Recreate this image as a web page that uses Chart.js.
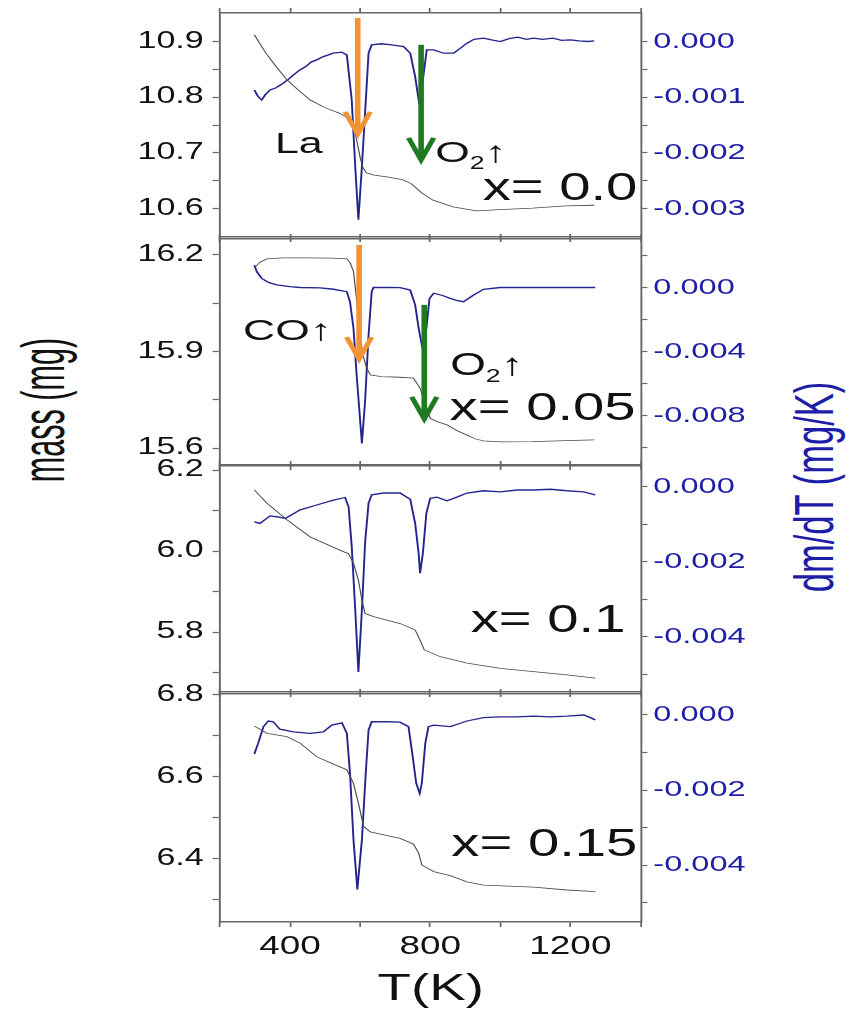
<!DOCTYPE html>
<html>
<head>
<meta charset="utf-8">
<script src="https://cdn.jsdelivr.net/npm/chart.js@4.4.0/dist/chart.umd.min.js"></script>
<style>
  body { margin: 0; background: #fff; }
  #fig { position: relative; width: 846px; height: 1011px; overflow: hidden; background: #fff; }
  .vtitle { position: absolute; width: 340px; height: 44px; line-height: 44px; text-align: center;
            font-family: 'Liberation Sans', Arial, sans-serif; white-space: nowrap; }
</style>
</head>
<body>
<div id="fig">
  <div class="vtitle" id="massTitle">mass (mg)</div>
  <div class="vtitle" id="rateTitle">dm/dT (mg/K)</div>
</div>
<script>
const PAGE_W = 846;
const LOGICAL_W = 572;              // charts are laid out narrow, then widened
const SX = PAGE_W / LOGICAL_W;
const FONT = "'Liberation Sans', Arial, sans-serif";

// temperature axis
const tempTicks = [200, 400, 600, 800, 1000, 1200, 1400];
const tempLabels = [400, 800, 1200];

// x = 0.0
const massT1 = [298, 330, 360, 391, 425, 457, 500, 542, 565, 576, 585, 590, 600, 607, 618, 640, 676, 720, 745, 760, 776, 808, 865, 932, 998, 1092, 1188, 1268];
const mass1 = [10.912, 10.880, 10.855, 10.831, 10.812, 10.795, 10.781, 10.771, 10.762, 10.754, 10.738, 10.723, 10.692, 10.675, 10.664, 10.660, 10.657, 10.652, 10.645, 10.637, 10.628, 10.615, 10.603, 10.596, 10.598, 10.601, 10.605, 10.606];
const rateT1 = [298, 308, 319, 330, 343, 360, 380, 395, 410, 428, 445, 460, 476, 495, 510, 523, 547, 562, 576, 586, 595, 605, 619, 624, 633, 660, 690, 724, 743, 757, 767, 779, 790, 810, 838, 867, 890, 905, 925, 952, 975, 1000, 1025, 1050, 1075, 1095, 1120, 1150, 1175, 1200, 1225, 1250, 1268];
const rate1 = [-0.00087, -0.00098, -0.00105, -0.00095, -0.00087, -0.00083, -0.00075, -0.00068, -0.00060, -0.00051, -0.00045, -0.00037, -0.00033, -0.00027, -0.00024, -0.00021, -0.00019, -0.00024, -0.00105, -0.00225, -0.0032, -0.00225, -0.00075, -0.00021, -0.00006, -0.00004, -0.00006, -0.00009, -0.00021, -0.00063, -0.00105, -0.00069, -0.00015, -0.00015, -0.00021, -0.00021, -0.00010, -0.00003, 0.00004, 0.00006, 0.00003, 0.0, 0.00005, 0.00008, 0.00004, 0.00006, 0.00004, 0.00006, 0.00002, 0.00003, 0.00001, 0.0, 0.00001];
const massTicks1 = [10.6, 10.65, 10.7, 10.75, 10.8, 10.85, 10.9];
const massLabels1 = [10.6, 10.7, 10.8, 10.9];
const rateTicks1 = [0, -0.0005, -0.001, -0.0015, -0.002, -0.0025, -0.003];
const rateLabels1 = [0, -0.001, -0.002, -0.003];

// x = 0.05
const massT2 = [298, 315, 334, 380, 450, 520, 562, 572, 581, 590, 599, 608, 618, 629, 660, 713, 752, 771, 785, 800, 820, 848, 875, 905, 930, 952, 1000, 1092, 1188, 1268];
const mass2 = [16.160, 16.178, 16.188, 16.191, 16.191, 16.190, 16.188, 16.175, 16.148, 16.060, 15.950, 15.890, 15.850, 15.827, 15.822, 15.820, 15.817, 15.786, 15.740, 15.692, 15.682, 15.672, 15.655, 15.640, 15.628, 15.622, 15.619, 15.620, 15.623, 15.625];
const rateT2 = [298, 305, 319, 340, 362, 400, 429, 486, 524, 562, 571, 581, 590, 605, 614, 624, 633, 638, 680, 714, 743, 757, 767, 776, 789, 798, 810, 835, 857, 875, 895, 924, 952, 1000, 1100, 1200, 1271];
const rate2 = [0.0014, 0.00099, 0.00057, 0.00030, 0.00016, 0.00005, 0.0, -0.00002, -0.00011, -0.00026, -0.00089, -0.00255, -0.00547, -0.00974, -0.00714, -0.00297, -0.00026, 0.0, 0.0, -0.00001, -0.00016, -0.00109, -0.00255, -0.0036, -0.00255, -0.00068, -0.00036, -0.00050, -0.00068, -0.00080, -0.00089, -0.00047, -0.00011, 0.0, 0.0, 0.0, 0.0];
const massTicks2 = [15.6, 15.75, 15.9, 16.05, 16.2];
const massLabels2 = [15.6, 15.9, 16.2];
const rateTicks2 = [0.002, 0, -0.002, -0.004, -0.006, -0.008, -0.010];
const rateLabels2 = [0, -0.004, -0.008];

// x = 0.1
const massT3 = [298, 334, 391, 457, 524, 567, 581, 595, 605, 614, 638, 714, 757, 771, 783, 829, 905, 1000, 1095, 1190, 1271];
const mass3 = [6.151, 6.118, 6.077, 6.035, 6.009, 5.993, 5.970, 5.928, 5.879, 5.846, 5.838, 5.821, 5.805, 5.780, 5.756, 5.739, 5.723, 5.710, 5.702, 5.694, 5.686];
const rateT3 = [298, 314, 343, 365, 386, 429, 476, 524, 557, 567, 576, 586, 595, 605, 614, 624, 633, 667, 714, 743, 757, 767, 771, 779, 789, 800, 819, 848, 876, 905, 952, 1000, 1048, 1095, 1143, 1190, 1238, 1271];
const rate3 = [-0.00093, -0.00097, -0.00077, -0.00080, -0.00084, -0.00061, -0.00048, -0.00035, -0.00028, -0.00052, -0.00159, -0.00328, -0.00493, -0.00328, -0.00150, -0.00043, -0.00021, -0.00016, -0.00016, -0.00033, -0.00097, -0.00177, -0.0023, -0.00177, -0.0007, -0.0003, -0.00027, -0.00037, -0.00027, -0.00016, -0.0001, -0.00013, -0.00008, -0.00008, -0.00006, -0.0001, -0.00013, -0.00021];
const massTicks3 = [5.7, 5.8, 5.9, 6.0, 6.1, 6.2];
const massLabels3 = [5.8, 6.0, 6.2];
const rateTicks3 = [0, -0.001, -0.002, -0.003, -0.004, -0.005];
const rateLabels3 = [0, -0.002, -0.004];

// x = 0.15
const massT4 = [298, 334, 391, 429, 476, 524, 562, 581, 595, 610, 629, 714, 752, 767, 776, 810, 857, 905, 952, 1095, 1190, 1271];
const mass4 = [6.723, 6.705, 6.697, 6.681, 6.648, 6.630, 6.616, 6.583, 6.535, 6.478, 6.465, 6.449, 6.435, 6.413, 6.384, 6.368, 6.358, 6.343, 6.335, 6.330, 6.323, 6.319];
const rateT4 = [298, 309, 324, 338, 352, 371, 410, 457, 495, 519, 548, 562, 571, 581, 592, 605, 616, 624, 633, 676, 714, 738, 750, 760, 770, 776, 786, 795, 810, 857, 886, 905, 952, 1000, 1048, 1095, 1143, 1190, 1238, 1257, 1271];
const rate4 = [-0.00104, -0.00075, -0.00031, -0.00016, -0.00018, -0.00038, -0.00045, -0.00049, -0.00045, -0.00027, -0.00021, -0.00049, -0.00155, -0.00333, -0.00465, -0.00333, -0.00155, -0.0004, -0.00018, -0.00018, -0.00019, -0.00031, -0.00111, -0.00182, -0.00209, -0.00182, -0.00075, -0.00031, -0.00027, -0.00031, -0.00022, -0.00016, -0.00007, -0.00005, -0.00005, -0.00003, -0.00005, -0.00003, 0.0, -0.00007, -0.00013];
const massTicks4 = [6.3, 6.4, 6.5, 6.6, 6.7, 6.8];
const massLabels4 = [6.4, 6.6, 6.8];
const rateTicks4 = [0, -0.001, -0.002, -0.003, -0.004, -0.005];
const rateLabels4 = [0, -0.002, -0.004];

const ORANGE = '#f29334';
const GREEN = '#1f7a22';
const BLUE_LINE = '#25258f';
const BLUE_TEXT = '#1d1da8';
const FRAME = '#666';

function pts(xs, ys) {
    return xs.map((x, i) => ({ x: x, y: ys[i] }));
}

function isLabel(list, v) {
    return list.some(l => Math.abs(l - v) < 1e-9);
}

// widen everything horizontally when drawing
const stretch = {
    id: 'stretch',
    beforeDraw(chart) {
        const c = chart.canvas;
        if (c.width !== PAGE_W) c.width = PAGE_W;
        chart.ctx.setTransform(SX, 0, 0, 1, 0, 0);
    }
};

// arrows and text notes placed in data coordinates
const notes = {
    id: 'notes',
    afterDatasetsDraw(chart, args, opts) {
        const ctx = chart.ctx;
        const xs = chart.scales.x, ys = chart.scales.mass;
        ctx.save();
        (opts.arrows || []).forEach(a => {
            const x = xs.getPixelForValue(a.t);
            const top = ys.getPixelForValue(a.from);
            const tip = ys.getPixelForValue(a.to);
            ctx.strokeStyle = a.color;
            ctx.lineWidth = 3.8;
            ctx.beginPath();
            ctx.moveTo(x, top);
            ctx.lineTo(x, tip - 3);
            ctx.stroke();
            ctx.lineWidth = 3.6;
            ctx.lineJoin = 'miter';
            ctx.beginPath();
            ctx.moveTo(x - 8.5, tip - 25);
            ctx.lineTo(x, tip - 3);
            ctx.lineTo(x + 8.5, tip - 25);
            ctx.stroke();
        });
        ctx.fillStyle = '#111';
        ctx.textBaseline = 'alphabetic';
        ctx.textAlign = 'left';
        (opts.labels || []).forEach(l => {
            let width = 0;
            l.parts.forEach(p => {
                ctx.font = p[1] + 'px ' + FONT;
                width += ctx.measureText(p[0]).width;
            });
            let x = xs.getPixelForValue(l.t) - (l.align === 'right' ? width : 0);
            const y = ys.getPixelForValue(l.m);
            l.parts.forEach(p => {
                ctx.font = p[1] + 'px ' + FONT;
                ctx.fillText(p[0], x, y + (p[2] || 0));
                x += ctx.measureText(p[0]).width;
            });
        });
        ctx.restore();
    }
};

const fig = document.getElementById('fig');

function makePanel(p) {
    const last = !!p.last;
    const extraBottom = last ? 89 : 40;
    const h = 40 + p.height + extraBottom;
    const canvas = document.createElement('canvas');
    canvas.width = LOGICAL_W;
    canvas.height = h;
    canvas.style.cssText = 'position:absolute;left:0;top:' + (p.top - 40) + 'px;width:' + PAGE_W + 'px;height:' + h + 'px';
    fig.appendChild(canvas);

    const tickGrid = { display: true, drawOnChartArea: false, drawTicks: true, tickLength: 5, color: FRAME, tickColor: FRAME, tickWidth: 1.2 };

    new Chart(canvas, {
        type: 'line',
        data: {
            datasets: [
                {
                    label: 'mass',
                    data: pts(p.massT, p.mass),
                    xAxisID: 'x',
                    yAxisID: 'mass',
                    borderColor: '#4a4a4a',
                    borderWidth: 0.8,
                    pointRadius: 0,
                    tension: 0,
                    fill: false
                },
                {
                    label: 'dm/dT',
                    data: pts(p.rateT, p.rate),
                    xAxisID: 'x',
                    yAxisID: 'rate',
                    borderColor: BLUE_LINE,
                    borderWidth: 1.3,
                    pointRadius: 0,
                    tension: 0,
                    fill: false
                }
            ]
        },
        options: {
            responsive: false,
            devicePixelRatio: 1,
            animation: false,
            events: [],
            layout: { padding: { top: 24, bottom: last ? 0 : 24, left: 0, right: 0 } },
            plugins: {
                legend: { display: false },
                tooltip: { enabled: false },
                notes: { arrows: p.arrows, labels: p.labels }
            },
            scales: {
                x: {
                    type: 'linear',
                    position: 'bottom',
                    min: 200,
                    max: 1403,
                    afterBuildTicks: s => { s.ticks = tempTicks.map(v => ({ value: v })); },
                    afterFit: s => { s.height = last ? 89 : 16; },
                    ticks: {
                        display: last,
                        autoSkip: false,
                        maxRotation: 0,
                        padding: 5,
                        color: '#111',
                        font: { family: FONT, size: 25 },
                        callback: v => isLabel(tempLabels, v) ? String(v) : ''
                    },
                    grid: tickGrid,
                    border: { display: true, color: FRAME, width: 1.5 },
                    title: {
                        display: last,
                        text: 'T(K)',
                        color: '#111',
                        font: { family: FONT, size: 37, lineHeight: 1 },
                        padding: { top: 0, bottom: 3 }
                    }
                },
                xTop: {
                    type: 'linear',
                    position: 'top',
                    min: 200,
                    max: 1403,
                    afterBuildTicks: s => { s.ticks = tempTicks.map(v => ({ value: v })); },
                    afterFit: s => { s.height = 16; },
                    ticks: { display: false },
                    grid: tickGrid,
                    border: { display: true, color: FRAME, width: 1.5 }
                },
                mass: {
                    type: 'linear',
                    position: 'left',
                    min: p.massMin,
                    max: p.massMax,
                    afterBuildTicks: s => { s.ticks = p.massTicks.map(v => ({ value: v })); },
                    afterFit: s => { s.width = 220 / SX; },
                    ticks: {
                        autoSkip: false,
                        padding: 6,
                        color: '#111',
                        font: { family: FONT, size: 23 },
                        callback: v => isLabel(p.massLabels, v) ? v.toFixed(1) : ''
                    },
                    grid: tickGrid,
                    border: { display: true, color: FRAME, width: 1.3 }
                },
                rate: {
                    type: 'linear',
                    position: 'right',
                    min: p.rateMin,
                    max: p.rateMax,
                    afterBuildTicks: s => { s.ticks = p.rateTicks.map(v => ({ value: v })); },
                    afterFit: s => { s.width = (PAGE_W - 641.5) / SX; },
                    ticks: {
                        autoSkip: false,
                        padding: 4,
                        color: BLUE_TEXT,
                        font: { family: FONT, size: 22 },
                        callback: v => isLabel(p.rateLabels, v) ? (v === 0 ? '0.000' : v.toFixed(3)) : ''
                    },
                    grid: Object.assign({}, tickGrid, { tickLength: 4 }),
                    border: { display: true, color: FRAME, width: 1.3 }
                }
            }
        },
        plugins: [stretch, notes]
    });
}

makePanel({
    top: 13, height: 224,
    massT: massT1, mass: mass1, rateT: rateT1, rate: rate1,
    massMin: 10.549, massMax: 10.951, rateMin: -0.00351, rateMax: 0.000512,
    massTicks: massTicks1, massLabels: massLabels1, rateTicks: rateTicks1, rateLabels: rateLabels1,
    arrows: [
        { t: 593, from: 10.942, to: 10.7286, color: ORANGE },
        { t: 774, from: 10.894, to: 10.682, color: GREEN }
    ],
    labels: [
        { t: 357, m: 10.700, parts: [['La', 29]] },
        { t: 814, m: 10.684, parts: [['O', 30], ['2', 18, 7], ['\u2191', 30]] },
        { t: 1391, m: 10.615, align: 'right', parts: [['x= 0.0', 38]] }
    ]
});

makePanel({
    top: 239, height: 226,
    massT: massT2, mass: mass2, rateT: rateT2, rate: rate2,
    massMin: 15.5472, massMax: 16.2497, rateMin: -0.01109, rateMax: 0.00303,
    massTicks: massTicks2, massLabels: massLabels2, rateTicks: rateTicks2, rateLabels: rateLabels2,
    arrows: [
        { t: 597, from: 16.231, to: 15.867, color: ORANGE },
        { t: 783, from: 16.045, to: 15.681, color: GREEN }
    ],
    labels: [
        { t: 266, m: 15.936, parts: [['CO\u2191', 30]] },
        { t: 857, m: 15.827, parts: [['O', 31], ['2', 18, 7], ['\u2191', 31]] },
        { t: 1386, m: 15.687, align: 'right', parts: [['x= 0.05', 38]] }
    ]
});

makePanel({
    top: 466, height: 226,
    massT: massT3, mass: mass3, rateT: rateT3, rate: rate3,
    massMin: 5.6519, massMax: 6.2099, rateMin: -0.005467, rateMax: 0.00056,
    massTicks: massTicks3, massLabels: massLabels3, rateTicks: rateTicks3, rateLabels: rateLabels3,
    labels: [
        { t: 1357, m: 5.801, align: 'right', parts: [['x= 0.1', 38]] }
    ]
});

makePanel({
    top: 694, height: 228, last: true,
    massT: massT4, mass: mass4, rateT: rateT4, rate: rate4,
    massMin: 6.245, massMax: 6.801, rateMin: -0.00552, rateMax: 0.00056,
    massTicks: massTicks4, massLabels: massLabels4, rateTicks: rateTicks4, rateLabels: rateLabels4,
    labels: [
        { t: 1391, m: 6.407, align: 'right', parts: [['x= 0.15', 38]] }
    ]
});

// shared axis titles, condensed along their length
function placeTitle(el, cx, cy, size, color, across, along) {
    el.style.left = (cx - 170) + 'px';
    el.style.top = (cy - 22) + 'px';
    el.style.fontSize = size + 'px';
    el.style.color = color;
    el.style.transform = 'scale(' + across + ',' + along + ') rotate(-90deg)';
}
placeTitle(document.getElementById('massTitle'), 44, 410, 36, '#111', 1.7, 0.85);
placeTitle(document.getElementById('rateTitle'), 814, 487, 36, BLUE_TEXT, 1.55, 0.96);
</script>
</body>
</html>
